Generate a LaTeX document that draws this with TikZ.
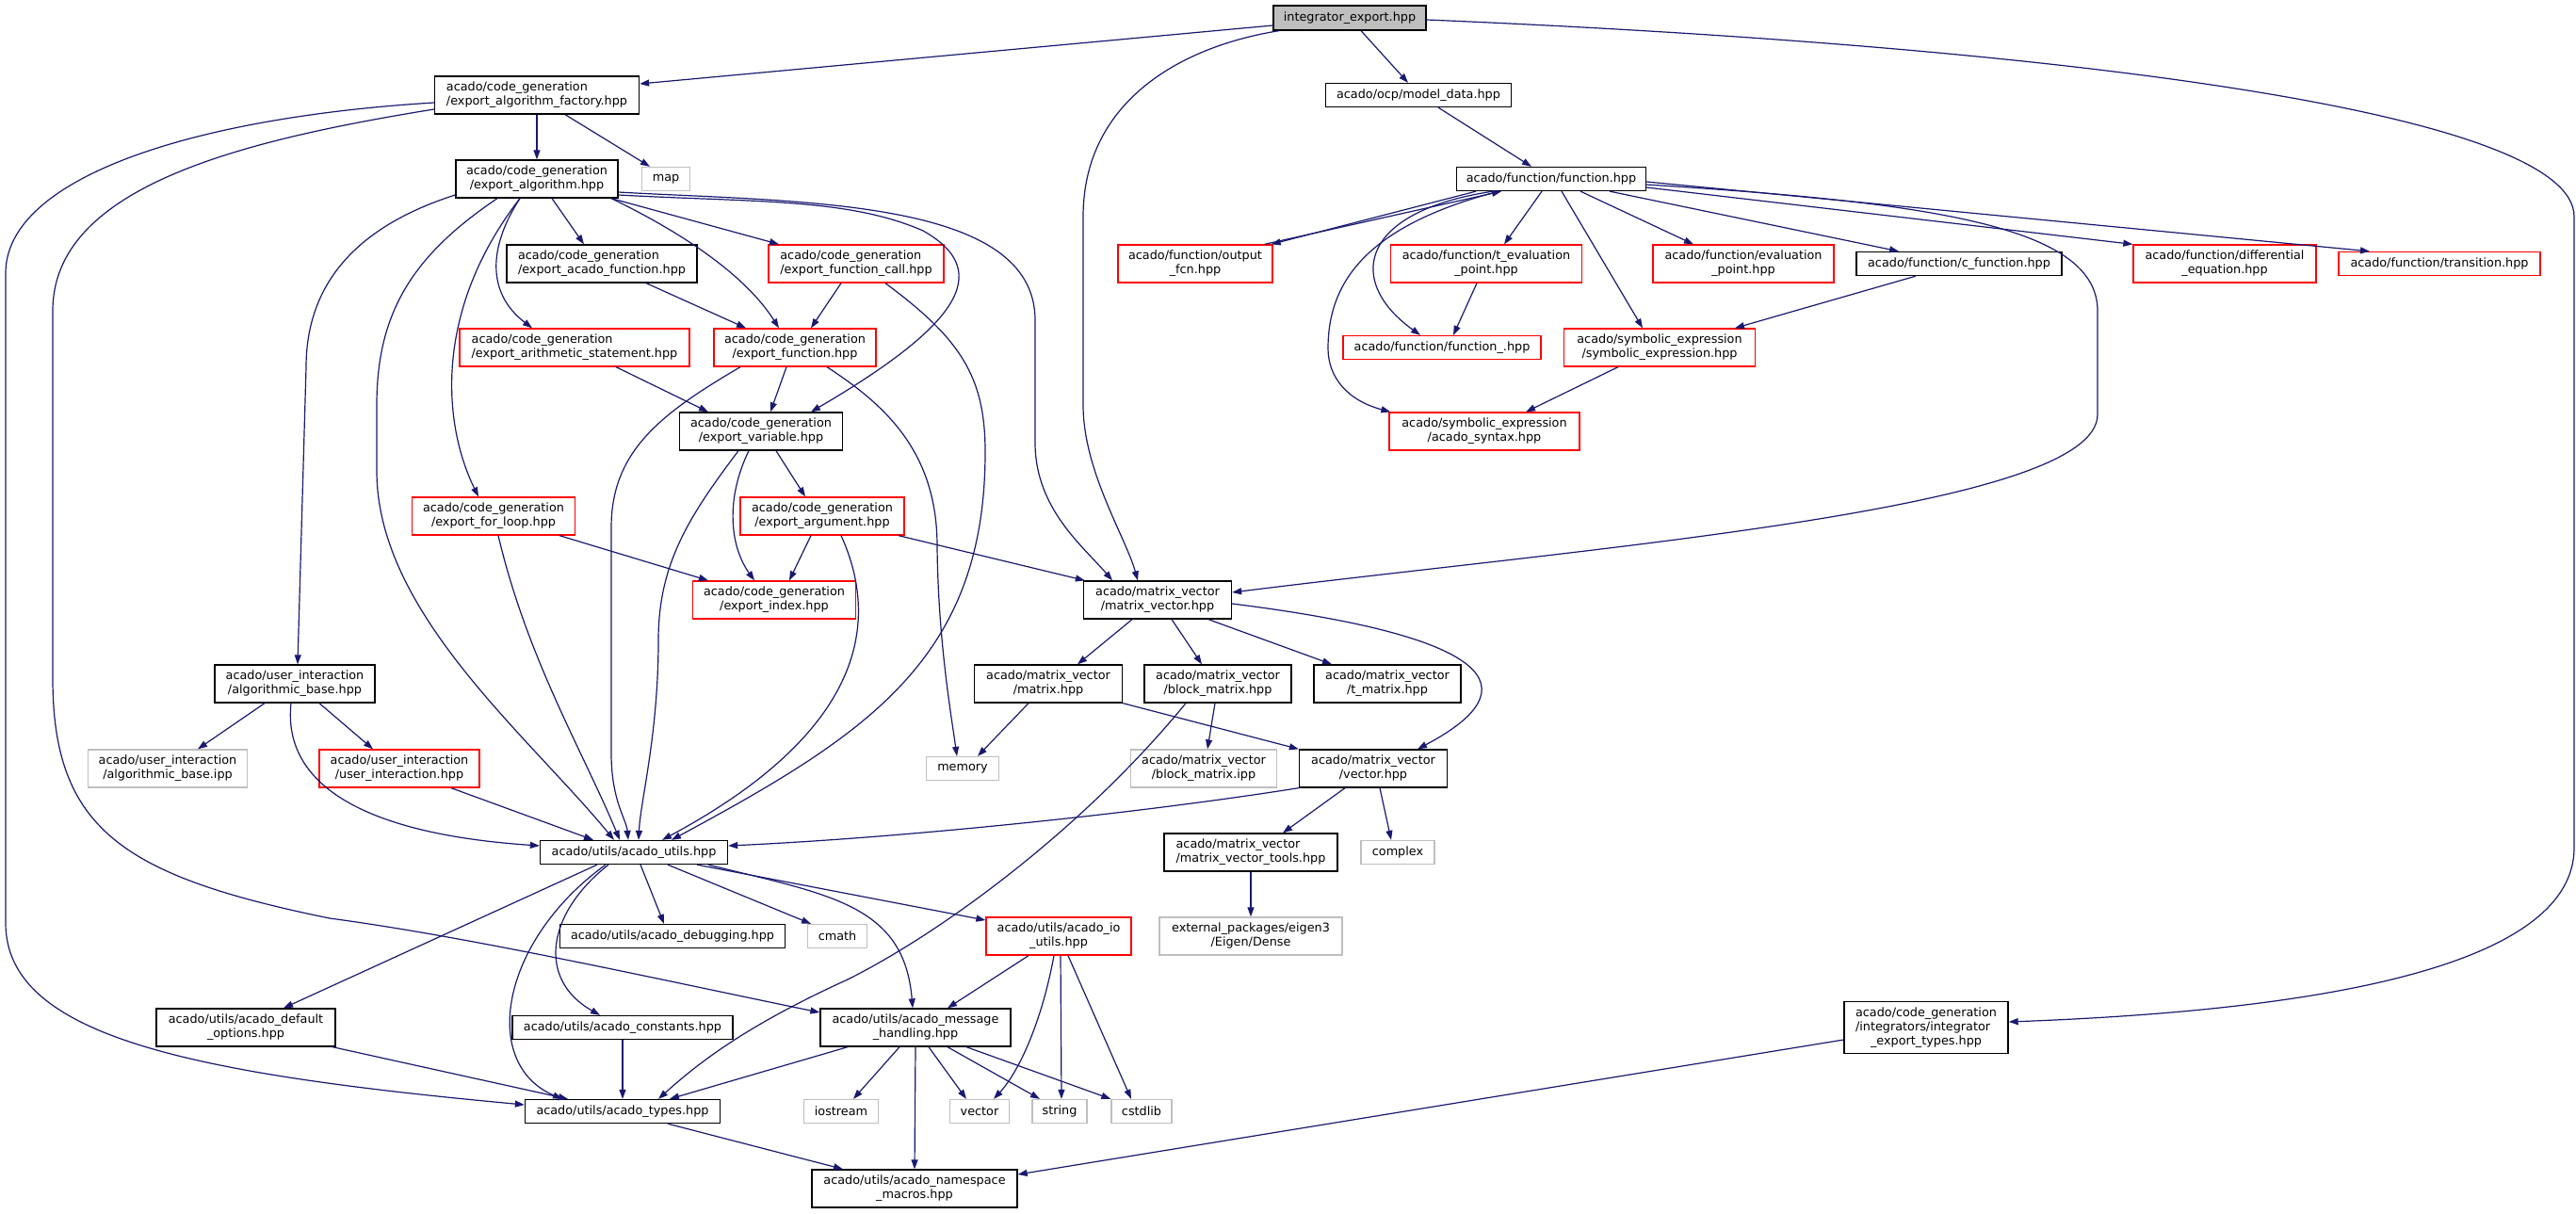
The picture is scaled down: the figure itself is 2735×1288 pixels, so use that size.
\documentclass[tikz,border=0pt]{standalone}
\usepackage{fontspec}
\setmainfont{DejaVu Sans}
\usetikzlibrary{arrows.meta}
\definecolor{edgeblue}{HTML}{191970}
\definecolor{graybd}{HTML}{BFBFBF}
\definecolor{redbd}{HTML}{FF0000}
\newcommand{\nodefont}{\fontsize{12.8}{15}\selectfont}
\newcommand{\TwoL}[2]{\begin{tabular}{@{}l@{}}#1\\\multicolumn{1}{@{}c@{}}{#2}\end{tabular}}
\newcommand{\ThreeL}[3]{\begin{tabular}{@{}l@{}}#1\\#2\\\multicolumn{1}{@{}c@{}}{#3}\end{tabular}}
\tikzset{
  nb/.style={draw=black, line width=1.3pt, fill=white, inner sep=0pt, align=center, font=\nodefont},
  nr/.style={nb, draw=redbd},
  ng/.style={nb, draw=graybd},
  nroot/.style={nb, fill=graybd},
  dep/.style={draw=edgeblue, line width=1.2pt, -{Triangle[length=10pt,width=7pt]}}
}
\newcommand{\bx}[2]{minimum width=#1pt, minimum height=#2pt}
\begin{document}
\begin{tikzpicture}[x=1pt,y=-1pt]
\fill[white] (0,0) rectangle (2735,1288);
\useasboundingbox (0,0) rectangle (2735,1288);
% nodes
\node[nroot, minimum width=162pt, minimum height=26pt] (R) at (1433,19) {integrator\_export.hpp};
\node[nb, minimum width=217pt, minimum height=40pt] (EAF) at (570,101) {\TwoL{acado/code\_generation}{/export\_algorithm\_factory.hpp}};
\node[nb, minimum width=197pt, minimum height=25pt] (MD) at (1506,101) {acado/ocp/model\_data.hpp};
\node[nb, minimum width=172pt, minimum height=40pt] (EA) at (570,190) {\TwoL{acado/code\_generation}{/export\_algorithm.hpp}};
\node[ng, minimum width=51pt, minimum height=25pt] (MAP) at (707,190) {map};
\node[nb, minimum width=201pt, minimum height=25pt] (FN) at (1647,190) {acado/function/function.hpp};
\node[nb, minimum width=202pt, minimum height=40pt] (EAcF) at (639,280) {\TwoL{acado/code\_generation}{/export\_acado\_function.hpp}};
\node[nr, minimum width=186pt, minimum height=40pt] (EFC) at (909,280) {\TwoL{acado/code\_generation}{/export\_function\_call.hpp}};
\node[nr, minimum width=164pt, minimum height=40pt] (OF) at (1269,280) {\TwoL{acado/function/output}{\_fcn.hpp}};
\node[nr, minimum width=203pt, minimum height=40pt] (TEP) at (1578,280) {\TwoL{acado/function/t\_evaluation}{\_point.hpp}};
\node[nr, minimum width=192pt, minimum height=40pt] (EP) at (1851,280) {\TwoL{acado/function/evaluation}{\_point.hpp}};
\node[nb, minimum width=218pt, minimum height=25pt] (CF) at (2080,280) {acado/function/c\_function.hpp};
\node[nr, minimum width=194pt, minimum height=40pt] (DE) at (2362,280) {\TwoL{acado/function/differential}{\_equation.hpp}};
\node[nr, minimum width=214pt, minimum height=25pt] (TR) at (2590,280) {acado/function/transition.hpp};
\node[nr, minimum width=244pt, minimum height=40pt] (EAS) at (610,369) {\TwoL{acado/code\_generation}{/export\_arithmetic\_statement.hpp}};
\node[nr, minimum width=172pt, minimum height=40pt] (EF) at (844,369) {\TwoL{acado/code\_generation}{/export\_function.hpp}};
\node[nr, minimum width=210pt, minimum height=25pt] (FU) at (1531,369) {acado/function/function\_.hpp};
\node[nr, minimum width=203pt, minimum height=40pt] (SE) at (1762,369) {\TwoL{acado/symbolic\_expression}{/symbolic\_expression.hpp}};
\node[nb, minimum width=173pt, minimum height=40pt] (EV) at (808,458) {\TwoL{acado/code\_generation}{/export\_variable.hpp}};
\node[nr, minimum width=202pt, minimum height=40pt] (AS) at (1576,458) {\TwoL{acado/symbolic\_expression}{/acado\_syntax.hpp}};
\node[nr, minimum width=173pt, minimum height=40pt] (EFL) at (524,548) {\TwoL{acado/code\_generation}{/export\_for\_loop.hpp}};
\node[nr, minimum width=174pt, minimum height=40pt] (EArg) at (873,548) {\TwoL{acado/code\_generation}{/export\_argument.hpp}};
\node[nr, minimum width=173pt, minimum height=40pt] (EI) at (822,637) {\TwoL{acado/code\_generation}{/export\_index.hpp}};
\node[nb, minimum width=157pt, minimum height=40pt] (MV) at (1229,637) {\TwoL{acado/matrix\_vector}{/matrix\_vector.hpp}};
\node[nb, minimum width=170pt, minimum height=40pt] (AB) at (313,726) {\TwoL{acado/user\_interaction}{/algorithmic\_base.hpp}};
\node[nb, minimum width=157pt, minimum height=40pt] (MX) at (1113,726) {\TwoL{acado/matrix\_vector}{/matrix.hpp}};
\node[nb, minimum width=156pt, minimum height=40pt] (BM) at (1293,726) {\TwoL{acado/matrix\_vector}{/block\_matrix.hpp}};
\node[nb, minimum width=156pt, minimum height=40pt] (TM) at (1473,726) {\TwoL{acado/matrix\_vector}{/t\_matrix.hpp}};
\node[ng, minimum width=169pt, minimum height=40pt] (ABI) at (178,816) {\TwoL{acado/user\_interaction}{/algorithmic\_base.ipp}};
\node[nr, minimum width=170pt, minimum height=40pt] (UI) at (424,816) {\TwoL{acado/user\_interaction}{/user\_interaction.hpp}};
\node[ng, minimum width=77pt, minimum height=25pt] (MEM) at (1022,816) {memory};
\node[ng, minimum width=155pt, minimum height=40pt] (BMI) at (1278,816) {\TwoL{acado/matrix\_vector}{/block\_matrix.ipp}};
\node[nb, minimum width=157pt, minimum height=40pt] (VEC) at (1458,816) {\TwoL{acado/matrix\_vector}{/vector.hpp}};
\node[nb, minimum width=199pt, minimum height=25pt] (AU) at (673,905) {acado/utils/acado\_utils.hpp};
\node[nb, minimum width=184pt, minimum height=40pt] (MVT) at (1328,905) {\TwoL{acado/matrix\_vector}{/matrix\_vector\_tools.hpp}};
\node[ng, minimum width=78pt, minimum height=25pt] (CPX) at (1484,905) {complex};
\node[nb, minimum width=239pt, minimum height=25pt] (ADBG) at (714,994) {acado/utils/acado\_debugging.hpp};
\node[ng, minimum width=63pt, minimum height=25pt] (CMATH) at (889,994) {cmath};
\node[nr, minimum width=154pt, minimum height=40pt] (AIO) at (1124,994) {\TwoL{acado/utils/acado\_io}{\_utils.hpp}};
\node[ng, minimum width=194pt, minimum height=40pt] (DENSE) at (1328,994) {\TwoL{external\_packages/eigen3}{/Eigen/Dense}};
\node[nb, minimum width=190pt, minimum height=40pt] (ADO) at (261,1091) {\TwoL{acado/utils/acado\_default}{\_options.hpp}};
\node[nb, minimum width=234pt, minimum height=25pt] (ACON) at (661,1091) {acado/utils/acado\_constants.hpp};
\node[nb, minimum width=202pt, minimum height=40pt] (AMH) at (972,1091) {\TwoL{acado/utils/acado\_message}{\_handling.hpp}};
\node[nb, minimum width=174pt, minimum height=55pt] (ITY) at (2045,1091) {\ThreeL{acado/code\_generation}{/integrators/integrator}{\_export\_types.hpp}};
\node[nb, minimum width=207pt, minimum height=25pt] (AT) at (661,1180) {acado/utils/acado\_types.hpp};
\node[ng, minimum width=79pt, minimum height=25pt] (IOS) at (893,1180) {iostream};
\node[ng, minimum width=63pt, minimum height=25pt] (VECT) at (1040,1180) {vector};
\node[ng, minimum width=58pt, minimum height=25pt] (STR) at (1125,1180) {string};
\node[ng, minimum width=64pt, minimum height=25pt] (CSTD) at (1212,1180) {cstdlib};
\node[nb, minimum width=218pt, minimum height=40pt] (ANM) at (971,1262) {\TwoL{acado/utils/acado\_namespace}{\_macros.hpp}};
% edges from root
\draw[dep] ([yshift=-8pt]R.west) -- ([yshift=12pt]EAF.east);
\draw[dep] ([xshift=-75pt]R.south) .. controls (1250,50) and (1150,110) .. (1150,230) -- (1150,430) .. controls (1150,500) and (1195,570) .. ([xshift=-21pt]MV.north);
\draw[dep] ([xshift=12pt]R.south) -- ([xshift=-11pt]MD.north);
\draw[dep] ([yshift=-2pt]R.east) .. controls (2200,50) and (2733,120) .. (2733,230) -- (2733,900) .. controls (2733,1040) and (2400,1075) .. ([yshift=6pt]ITY.east);
% EAF
\draw[dep] (EAF.south) -- (EA.north);
\draw[dep] ([xshift=30pt]EAF.south) -- ([xshift=-17pt]MAP.north);
\draw[dep] ([yshift=-8pt]EAF.west) .. controls (200,125) and (6,190) .. (6,290) -- (6,980) .. controls (6,1100) and (200,1140) .. ([yshift=7pt]AT.west);
\draw[dep] ([yshift=-15pt]EAF.west) .. controls (250,150) and (56,200) .. (56,330) -- (56,720) .. controls (56,880) and (130,930) .. (350,975) .. controls (500,995) and (700,1040) .. ([yshift=16pt]AMH.west);
% EA
\draw[dep] ([yshift=-17pt]EA.west) .. controls (380,240) and (325,300) .. (325,390) -- ([xshift=3pt]AB.north);
\draw[dep] ([xshift=-42pt]EA.south) .. controls (440,270) and (400,330) .. (400,430) -- (400,500) .. controls (400,650) and (560,780) .. ([xshift=-21pt]AU.north);
\draw[dep] ([xshift=-18pt]EA.south) .. controls (460,330) and (470,450) .. ([xshift=-16pt]EFL.north);
\draw[dep] ([xshift=-18pt]EA.south) .. controls (520,260) and (515,310) .. ([xshift=-45pt]EAS.north);
\draw[dep] ([xshift=16pt]EA.south) -- ([xshift=-19pt]EAcF.north);
\draw[dep] ([xshift=79pt]EA.south) .. controls (720,245) and (790,290) .. ([xshift=-17pt]EF.north);
\draw[dep] ([xshift=79pt]EA.south) -- ([xshift=-82pt]EFC.north);
\draw[dep] ([yshift=-17pt]EA.east) .. controls (800,215) and (900,210) .. (980,245) .. controls (1060,290) and (1010,350) .. ([xshift=53pt]EV.north);
\draw[dep] ([yshift=-14pt]EA.east) .. controls (850,215) and (1099,210) .. (1099,340) -- (1099,470) .. controls (1099,540) and (1150,580) .. ([xshift=-48pt]MV.north);
% code generation
\draw[dep] ([xshift=47pt]EAcF.south) -- ([xshift=-52pt]EF.north);
\draw[dep] ([xshift=-16pt]EFC.south) -- ([xshift=17pt]EF.north);
\draw[dep] ([xshift=31pt]EFC.south) .. controls (1020,360) and (1046,400) .. (1046,480) .. controls (1046,700) and (920,780) .. ([xshift=40pt]AU.north);
\draw[dep] ([xshift=-9pt]EF.south) -- ([xshift=10pt]EV.north);
\draw[dep] ([xshift=-58pt]EF.south) .. controls (700,440) and (649,480) .. (649,560) -- (649,800) .. controls (649,850) and (665,870) .. ([xshift=-6pt]AU.north);
\draw[dep] ([xshift=34pt]EF.south) .. controls (940,430) and (995,480) .. (995,580) .. controls (996,680) and (1010,760) .. ([xshift=-6pt]MEM.north);
\draw[dep] ([xshift=44pt]EAS.south) -- ([xshift=-56pt]EV.north);
\draw[dep] ([xshift=-13pt]EV.south) .. controls (770,530) and (775,580) .. ([xshift=-21pt]EI.north);
\draw[dep] ([xshift=16pt]EV.south) -- ([xshift=-18pt]EArg.north);
\draw[dep] ([xshift=-24pt]EV.south) .. controls (730,550) and (699,600) .. (699,680) .. controls (699,780) and (680,850) .. ([xshift=5pt]AU.north);
\draw[dep] ([xshift=70pt]EFL.south) -- ([xshift=-70pt]EI.north);
\draw[dep] ([xshift=5pt]EFL.south) .. controls (560,700) and (620,800) .. ([xshift=-15pt]AU.north);
\draw[dep] ([xshift=-12pt]EArg.south) -- ([xshift=16pt]EI.north);
\draw[dep] ([xshift=81pt]EArg.south) -- ([xshift=2pt]MV.north west);
\draw[dep] ([xshift=20pt]EArg.south) .. controls (930,650) and (930,770) .. ([xshift=30pt]AU.north);
% user interaction
\draw[dep] ([xshift=55pt]UI.south) -- ([xshift=-43pt]AU.north);
\draw[dep] ([xshift=-32pt]AB.south) -- ([xshift=32pt]ABI.north);
\draw[dep] ([xshift=26pt]AB.south) -- ([xshift=-28pt]UI.north);
\draw[dep] ([xshift=-4pt]AB.south) .. controls (300,830) and (380,885) .. ([yshift=7pt]AU.west);
% function
\draw[dep] ([xshift=21pt]MD.south) -- ([xshift=-21pt]FN.north);
\draw[dep] ([xshift=-80pt]FN.south) -- ([xshift=-2pt]OF.north east);
\draw[dep] ([xshift=-9pt]OF.north east) -- ([xshift=-53pt]FN.south);
\draw[dep] ([xshift=-62pt]FN.south) .. controls (1440,225) and (1430,300) .. ([xshift=-23pt]FU.north);
\draw[dep] ([xshift=-56pt]FN.south) .. controls (1450,240) and (1410,300) .. (1410,370) .. controls (1410,400) and (1430,425) .. ([xshift=2pt]AS.north west);
\draw[dep] ([xshift=-10pt]FN.south) -- ([xshift=19pt]TEP.north);
\draw[dep] ([xshift=-10pt]TEP.south) -- ([xshift=12pt]FU.north);
\draw[dep] ([xshift=11pt]FN.south) -- ([xshift=-18pt]SE.north);
\draw[dep] ([xshift=31pt]FN.south) -- ([xshift=-53pt]EP.north);
\draw[dep] ([xshift=62pt]FN.south) -- ([xshift=-64pt]CF.north);
\draw[dep] ([yshift=-9pt]FN.east) -- (DE.north west);
\draw[dep] ([yshift=-3pt]FN.east) -- ([xshift=-74pt]TR.north);
\draw[dep] ([yshift=-6pt]FN.east) .. controls (2050,215) and (2227,240) .. (2227,330) -- (2227,440) .. controls (2227,540) and (1700,580) .. ([yshift=8pt]MV.east);
\draw[dep] ([xshift=-46pt]CF.south) -- ([xshift=80pt]SE.north);
\draw[dep] ([xshift=-44pt]SE.south) -- ([xshift=44pt]AS.north);
% matrix vector
\draw[dep] ([xshift=-27pt]MV.south) -- ([xshift=31pt]MX.north);
\draw[dep] ([xshift=15pt]MV.south) -- ([xshift=-17pt]BM.north);
\draw[dep] ([xshift=54pt]MV.south) -- ([xshift=-59pt]TM.north);
\draw[dep] ([yshift=-4pt]MV.east) .. controls (1620,680) and (1610,740) .. ([xshift=47pt]VEC.north);
\draw[dep] ([xshift=-21pt]MX.south) -- ([xshift=16pt]MEM.north);
\draw[dep] (MX.south east) -- (VEC.north west);
\draw[dep] ([xshift=-3pt]BM.south) -- ([xshift=4pt]BMI.north);
\draw[dep] ([xshift=-34pt]BM.south) .. controls (1150,880) and (1000,990) .. (900,1040) .. controls (790,1090) and (740,1130) .. ([xshift=38pt]AT.north);
\draw[dep] ([xshift=-30pt]VEC.south) -- ([xshift=34pt]MVT.north);
\draw[dep] ([xshift=7pt]VEC.south) -- ([xshift=-7pt]CPX.north);
\draw[dep] (VEC.south west) .. controls (1200,865) and (950,890) .. ([yshift=7pt]AU.east);
\draw[dep] (MVT.south) -- (DENSE.north);
% utils
\draw[dep] ([xshift=7pt]AU.south) -- ([xshift=-9pt]ADBG.north);
\draw[dep] ([xshift=36pt]AU.south) -- ([xshift=-28pt]CMATH.north);
\draw[dep] ([xshift=67pt]AU.south) -- ([yshift=17pt]AIO.west);
\draw[dep] ([xshift=79pt]AU.south) .. controls (880,950) and (960,960) .. ([xshift=-3pt]AMH.north);
\draw[dep] ([xshift=-39pt]AU.south) -- ([xshift=40pt]ADO.north);
\draw[dep] ([xshift=-27pt]AU.south) .. controls (580,970) and (570,1040) .. ([xshift=-24pt]ACON.north);
\draw[dep] ([xshift=-30pt]AU.south) .. controls (530,1000) and (510,1130) .. ([xshift=-64pt]AT.north);
\draw[dep] ([xshift=92pt]ADO.south) -- ([xshift=-58pt]AT.north);
\draw[dep] (ACON.south) -- (AT.north);
\draw[dep] ([xshift=-72pt]AMH.south) -- ([xshift=50pt]AT.north);
\draw[dep] ([xshift=48pt]AT.south) -- ([xshift=-76pt]ANM.north);
\draw[dep] ([xshift=-32pt]AIO.south) -- ([xshift=34pt]AMH.north);
\draw[dep] ([xshift=-5pt]AIO.south) .. controls (1105,1090) and (1080,1140) .. ([xshift=15pt]VECT.north);
\draw[dep] ([xshift=2pt]AIO.south) -- ([xshift=2pt]STR.north);
\draw[dep] ([xshift=10pt]AIO.south) -- ([xshift=-11pt]CSTD.north);
\draw[dep] ([xshift=-17pt]AMH.south) -- ([xshift=13pt]IOS.north);
\draw[dep] (AMH.south) -- (ANM.north);
\draw[dep] ([xshift=14pt]AMH.south) -- ([xshift=-14pt]VECT.north);
\draw[dep] ([xshift=34pt]AMH.south) -- ([xshift=-21pt]STR.north);
\draw[dep] ([xshift=54pt]AMH.south) -- (CSTD.north west);
\draw[dep] ([yshift=-13pt]ITY.west) -- ([yshift=15pt]ANM.east);
\end{tikzpicture}
\end{document}
